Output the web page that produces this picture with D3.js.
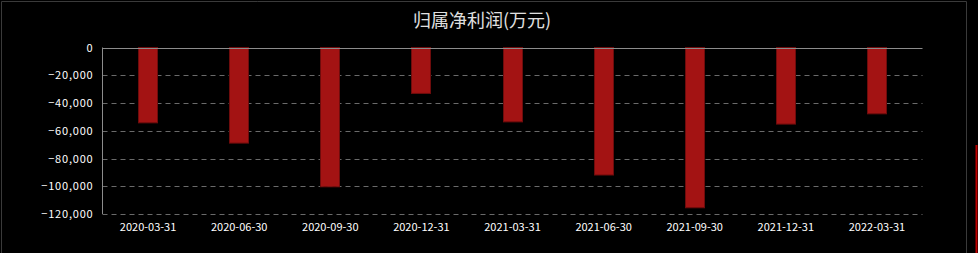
<!DOCTYPE html>
<html>
<head>
    <meta charset="utf-8">
    <title>归属净利润(万元)</title>
    <script src="https://d3js.org/d3.v7.min.js"></script>
    <style>
        body { margin: 0; background: #000; }
        svg { display: block; }
        .tick text { font: 11px "Noto Sans CJK SC", sans-serif; fill: #fff; }
        .y-axis .tick text { letter-spacing: 0.8px; }
    </style>
</head>
<body>
    <script>
        var dates = ["2020-03-31", "2020-06-30", "2020-09-30", "2020-12-31", "2021-03-31",
                     "2021-06-30", "2021-09-30", "2021-12-31", "2022-03-31"];
        var profit = [-54300, -68900, -100400, -33100, -53600, -91900, -115500, -55200, -47800];
        var yTicks = [0, -20000, -40000, -60000, -80000, -100000, -120000];

        var width = 978, height = 253;
        var plotLeft = 102.5, plotRight = 922.5, plotTop = 47.5, plotBottom = 214;

        var svg = d3.select("body").append("svg")
            .attr("width", width)
            .attr("height", height);

        svg.append("rect").attr("width", width).attr("height", height).attr("fill", "#000");

        // outer frame
        svg.append("path")
            .attr("d", "M1.5," + height + "V1.5H966.5V" + height)
            .attr("fill", "none")
            .attr("stroke", "#3a3a3a");

        // red marker on the right edge
        svg.append("line")
            .attr("x1", 976.5).attr("x2", 976.5)
            .attr("y1", 145).attr("y2", height)
            .attr("stroke", "#c00000").attr("stroke-width", 2);

        svg.append("text")
            .attr("x", 482).attr("y", 27)
            .attr("text-anchor", "middle")
            .attr("fill", "#e0e0e0")
            .style("font", "18px 'Noto Sans CJK SC', sans-serif")
            .text("归属净利润(万元)");

        var x = d3.scaleBand().domain(dates).range([plotLeft, plotRight]);
        var y = d3.scaleLinear().domain([0, -120000]).range([plotTop, plotBottom]);

        // grid lines
        svg.append("g").selectAll("line")
            .data(yTicks.slice(1))
            .enter().append("line")
            .attr("x1", plotLeft).attr("x2", plotRight)
            .attr("y1", function(d) { return Math.round(y(d)) + 0.5; })
            .attr("y2", function(d) { return Math.round(y(d)) + 0.5; })
            .attr("stroke", "#6a6a6a")
            .attr("stroke-dasharray", "5,4");

        // bars
        var bw = 20;
        svg.append("g").selectAll("rect")
            .data(profit)
            .enter().append("rect")
            .attr("x", function(d, i) { return Math.round(x(dates[i]) + x.bandwidth() / 2 - bw / 2) + 0.5; })
            .attr("y", y(0))
            .attr("width", bw - 1)
            .attr("height", function(d) { return y(d) - y(0); })
            .attr("fill", "#a31313")
            .attr("stroke", "#6e0c0c")
            .attr("stroke-width", 1);

        // zero line and left axis
        svg.append("line")
            .attr("x1", plotLeft).attr("x2", plotRight)
            .attr("y1", Math.round(y(0)) + 0.5).attr("y2", Math.round(y(0)) + 0.5)
            .attr("stroke", "#8c8c8c");
        svg.append("line")
            .attr("x1", plotLeft).attr("x2", plotLeft)
            .attr("y1", y(0)).attr("y2", plotBottom)
            .attr("stroke", "#8c8c8c");

        var yAxis = d3.axisLeft(y).tickValues(yTicks).tickSize(0).tickPadding(9)
            .tickFormat(d3.format(",d"));
        svg.append("g")
            .attr("class", "y-axis")
            .attr("transform", "translate(" + plotLeft + ",0)")
            .call(yAxis)
            .call(function(g) { g.select(".domain").remove(); });

        var xAxis = d3.axisBottom(x).tickSize(0).tickPadding(9);
        svg.append("g")
            .attr("transform", "translate(0," + plotBottom + ")")
            .call(xAxis)
            .call(function(g) { g.select(".domain").remove(); });
    </script>
</body>
</html>
